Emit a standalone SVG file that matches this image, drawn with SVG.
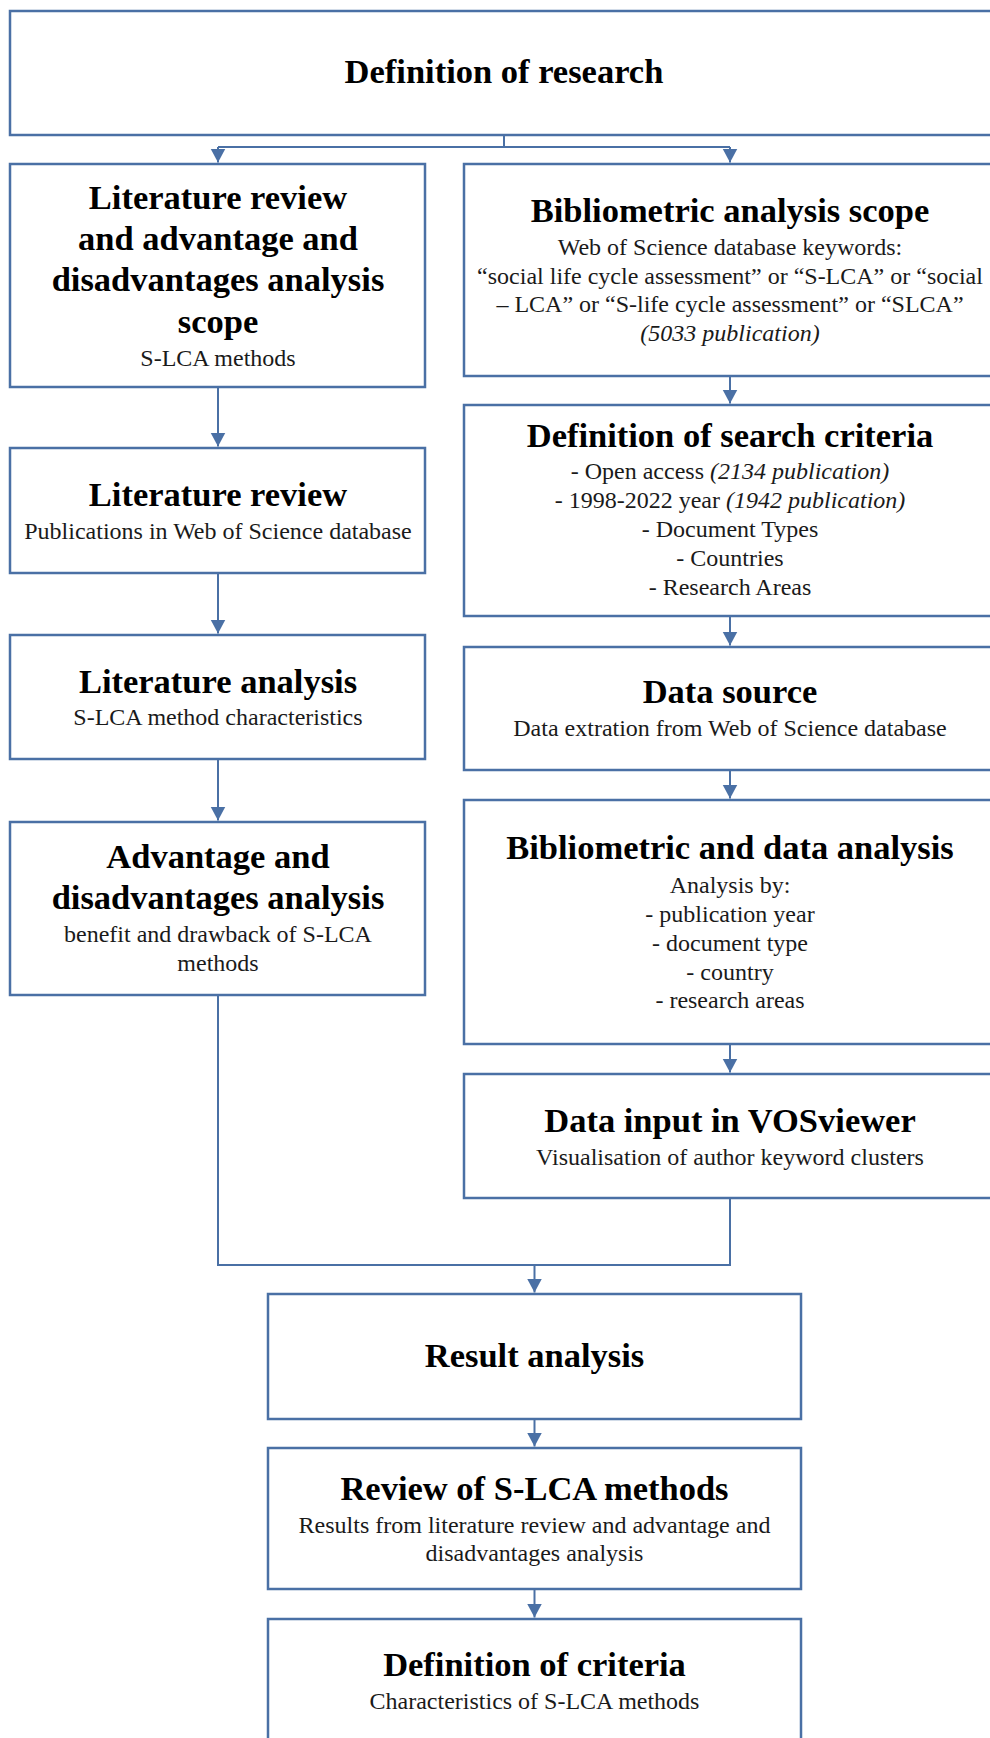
<svg xmlns="http://www.w3.org/2000/svg" width="990" height="1738" viewBox="0 0 990 1738">
<style>
.box{fill:#fff;stroke:#4a70a5;stroke-width:2.5}
.con{fill:none;stroke:#4a70a5;stroke-width:2}
.t{font-family:"Liberation Serif","Times New Roman",serif;font-weight:bold;font-size:34.5px;fill:#000;text-anchor:middle}
.b{font-family:"Liberation Serif","Times New Roman",serif;font-size:24px;fill:#1a1a1a;text-anchor:middle}
.i{font-style:italic}
</style>
<defs>
<marker id="ah" markerUnits="userSpaceOnUse" markerWidth="16" markerHeight="16" refX="14" refY="7.5" orient="auto">
<path d="M0,0 L14,7.5 L0,15 z" fill="#4a70a5"/>
</marker>
</defs>
<g id="n-top"><rect class="box" x="10" y="11" width="990" height="124"/>
<text class="t" x="504" y="83">Definition of research</text></g>
<g id="n-l1"><rect class="box" x="10" y="164" width="415" height="223"/>
<text class="t" x="218" y="209">Literature review</text>
<text class="t" x="218" y="250">and advantage and</text>
<text class="t" x="218" y="291">disadvantages analysis</text>
<text class="t" x="218" y="333">scope</text>
<text class="b" x="218" y="366">S-LCA methods</text></g>
<g id="n-r1"><rect class="box" x="464" y="164" width="532" height="212"/>
<text class="t" x="730" y="222">Bibliometric analysis scope</text>
<text class="b" x="730" y="255">Web of Science database keywords:</text>
<text class="b" x="730" y="284">“social life cycle assessment” or “S-LCA” or “social</text>
<text class="b" x="730" y="312">– LCA” or “S-life cycle assessment” or “SLCA”</text>
<text class="b i" x="730" y="341">(5033 publication)</text></g>
<g id="n-l2"><rect class="box" x="10" y="448" width="415" height="125"/>
<text class="t" x="218" y="506">Literature review</text>
<text class="b" x="218" y="539">Publications in Web of Science database</text></g>
<g id="n-r2"><rect class="box" x="464" y="405" width="532" height="211"/>
<text class="t" x="730" y="447">Definition of search criteria</text>
<text class="b" x="730" y="479">- Open access <tspan class="i">(2134 publication)</tspan></text>
<text class="b" x="730" y="508">- 1998-2022 year <tspan class="i">(1942 publication)</tspan></text>
<text class="b" x="730" y="537">- Document Types</text>
<text class="b" x="730" y="566">- Countries</text>
<text class="b" x="730" y="595">- Research Areas</text></g>
<g id="n-l3"><rect class="box" x="10" y="635" width="415" height="124"/>
<text class="t" x="218" y="693">Literature analysis</text>
<text class="b" x="218" y="725">S-LCA method characteristics</text></g>
<g id="n-r3"><rect class="box" x="464" y="647" width="532" height="123"/>
<text class="t" x="730" y="703">Data source</text>
<text class="b" x="730" y="736">Data extration from Web of Science database</text></g>
<g id="n-l4"><rect class="box" x="10" y="822" width="415" height="173"/>
<text class="t" x="218" y="868">Advantage and</text>
<text class="t" x="218" y="909">disadvantages analysis</text>
<text class="b" x="218" y="942">benefit and drawback of S-LCA</text>
<text class="b" x="218" y="971">methods</text></g>
<g id="n-r4"><rect class="box" x="464" y="800" width="532" height="244"/>
<text class="t" x="730" y="859">Bibliometric and data analysis</text>
<text class="b" x="730" y="893">Analysis by:</text>
<text class="b" x="730" y="922">- publication year</text>
<text class="b" x="730" y="951">- document type</text>
<text class="b" x="730" y="980">- country</text>
<text class="b" x="730" y="1008">- research areas</text></g>
<g id="n-r5"><rect class="box" x="464" y="1074" width="532" height="124"/>
<text class="t" x="730" y="1132">Data input in VOSviewer</text>
<text class="b" x="730" y="1165">Visualisation of author keyword clusters</text></g>
<g id="n-b1"><rect class="box" x="268" y="1294" width="533" height="125"/>
<text class="t" x="534.5" y="1367">Result analysis</text></g>
<g id="n-b2"><rect class="box" x="268" y="1448" width="533" height="141"/>
<text class="t" x="534.5" y="1500">Review of S-LCA methods</text>
<text class="b" x="534.5" y="1533">Results from literature review and advantage and</text>
<text class="b" x="534.5" y="1561">disadvantages analysis</text></g>
<g id="n-b3"><rect class="box" x="268" y="1619" width="533" height="140"/>
<text class="t" x="534.5" y="1676">Definition of criteria</text>
<text class="b" x="534.5" y="1709">Characteristics of S-LCA methods</text></g>
<g id="connectors">
<path class="con" d="M504 136 V147 M218 147 H730"/>
<path class="con" d="M218 147 V162.5" marker-end="url(#ah)"/>
<path class="con" d="M730 147 V162.5" marker-end="url(#ah)"/>
<path class="con" d="M218 388 V446.5" marker-end="url(#ah)"/>
<path class="con" d="M218 574 V633.5" marker-end="url(#ah)"/>
<path class="con" d="M218 760 V820.5" marker-end="url(#ah)"/>
<path class="con" d="M730 377 V403.5" marker-end="url(#ah)"/>
<path class="con" d="M730 617 V645.5" marker-end="url(#ah)"/>
<path class="con" d="M730 771 V798.5" marker-end="url(#ah)"/>
<path class="con" d="M730 1045 V1072.5" marker-end="url(#ah)"/>
<path class="con" d="M218 996 V1265 H730 V1199"/>
<path class="con" d="M534.5 1265 V1292.5" marker-end="url(#ah)"/>
<path class="con" d="M534.5 1420 V1446.5" marker-end="url(#ah)"/>
<path class="con" d="M534.5 1590 V1617.5" marker-end="url(#ah)"/>
</g>
</svg>
